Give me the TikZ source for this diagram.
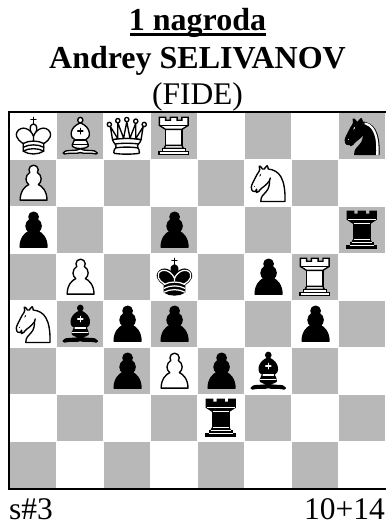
\documentclass[tikz,border=0pt]{standalone}
\usepackage{fontspec}
\usetikzlibrary{svg.path}
\setmainfont{Liberation Serif}
\definecolor{darksq}{HTML}{B8B8B8}
\newcommand{\kingbody}{svg {M 12.5,37 C 18,40.5 27,40.5 32.5,37 L 32.5,30 C 32.5,30 41.5,25.5 38.5,19.5 C 34.5,13 25,16 22.5,23.5 L 22.5,27 L 22.5,23.5 C 20,16 10.5,13 6.5,19.5 C 3.5,25.5 12.5,30 12.5,30 L 12.5,37}}
\newcommand{\kingheart}{svg {M 22.5,25 C 22.5,25 27,17.5 25.5,14.5 C 25.5,14.5 24.5,12 22.5,12 C 20.5,12 19.5,14.5 19.5,14.5 C 18,17.5 22.5,25 22.5,25}}
\newcommand{\bishopbase}{svg {M 9,36 C 12.39,35.03 19.11,36.43 22.5,34 C 25.89,36.43 32.61,35.03 36,36 C 36,36 37.65,36.54 39,38 C 38.32,38.97 37.35,38.99 36,38.5 C 32.61,37.53 25.89,38.96 22.5,37.5 C 19.11,38.96 12.39,37.53 9,38.5 C 7.65,38.99 6.68,38.97 6,38 C 7.35,36.06 9,36 9,36 z}}
\newcommand{\bishopbody}{svg {M 15,32 C 17.5,34.5 27.5,34.5 30,32 C 30.5,30.5 30,30 30,30 C 30,27.5 27.5,26 27.5,26 C 33,24.5 33.5,14.5 22.5,10.5 C 11.5,14.5 12,24.5 17.5,26 C 17.5,26 15,27.5 15,30 C 15,30 14.5,30.5 15,32 z}}
\newcommand{\knightback}{svg {M 22,10 C 32.5,11 38.5,18 38,39 L 15,39 C 15,30 25,32.5 23,18}}
\newcommand{\knighthead}{svg {M 24,18 C 24.38,20.91 18.45,25.37 16,27 C 13,29 13.18,31.34 11,31 C 9.958,30.06 12.41,27.96 11,28 C 10,28 11.19,29.23 10,30 C 9,30 5.997,31 6,26 C 6,24 12,14 12,14 C 12,14 13.89,12.1 14,10.5 C 13.27,9.506 13.5,8.5 13.5,7.5 C 14.5,6.5 16.5,10 16.5,10 L 18.5,10 C 18.5,10 19.28,8.008 21,7 C 22,7 22,10 22,10}}
\newcommand{\pawnshape}{svg {M 22.5,9 C 20.29,9 18.5,10.79 18.5,13 C 18.5,13.89 18.79,14.71 19.28,15.38 C 17.33,16.5 16,18.59 16,21 C 16,23.03 16.94,24.84 18.41,26.03 C 15.41,27.09 11,31.58 11,39.5 L 34,39.5 C 34,31.58 29.59,27.09 26.59,26.03 C 28.06,24.84 29,23.03 29,21 C 29,18.59 27.67,16.5 25.72,15.38 C 26.21,14.71 26.5,13.89 26.5,13 C 26.5,10.79 24.71,9 22.5,9 z}}
\newcommand{\rookcrown}{(8.5,4.8) -- (15,4.8) -- (15,7.8) -- (20,7.8) -- (20,4.8) -- (27,4.8) -- (27,7.8) -- (32,7.8) -- (32,4.8) -- (38.5,4.8) -- (38.5,13) -- (32,17) -- (15,17) -- (8.5,13) -- cycle}
\newcommand{\rookbody}{(15,17) -- (32,17) -- (32,33) -- (15,33) -- cycle}
\newcommand{\rookring}{(15,33) -- (32,33) -- (33.5,36) -- (13.5,36) -- cycle}
\newcommand{\rookneck}{(11.5,36) -- (35.5,36) -- (35.5,39) -- (11.5,39) -- cycle}
\newcommand{\rookfoot}{(8,39) -- (39,39) -- (39,42) -- (8,42) -- cycle}
\tikzset{
  titletext/.style={font=\fontsize{32}{32}\selectfont\bfseries,anchor=base,inner sep=0pt},
  plaintext/.style={font=\fontsize{31.5}{32}\selectfont,anchor=base,inner sep=0pt},
  cell/.style n args={4}{shift={(#1,-#2)},xscale=#3,yscale=-#4,x=1pt,y=1pt,line width=1.35pt,line join=round,line cap=round},
  kingcell/.style={cell={0.5}{-1.6}{1.03}{1.09}},
  queencell/.style={cell={-0.8}{-1}{1.057}{1.09}},
  bishopcell/.style={cell={0.2}{-1.1}{1.035}{1.1}},
  knightcell/.style={cell={0.17}{-1.56}{1.054}{1.12}},
  pawncell/.style={cell={-2.5}{-4.5}{1.168}{1.144}},
  rookcell/.style={cell={0.4}{0}{0.96}{1}},
  wpc/.style={draw=black,fill=white},
  bpc/.style={draw=black,fill=black},
  ink/.style={draw=black,fill=none},
  detail/.style={draw=white,fill=none,line width=1.25pt},
  thindetail/.style={draw=white,fill=none,line width=0.9pt},
  wking/.pic={\begin{scope}[kingcell]
    \draw[ink,line join=miter] (22.5,11.63) -- (22.5,6) (20,8) -- (25,8);
    \path[wpc,line cap=butt,line join=miter] \kingheart;
    \path[wpc] \kingbody;
    \draw[ink] svg {M 12.5,30 C 18,27 27,27 32.5,30 M 12.5,33.5 C 18,30.5 27,30.5 32.5,33.5 M 12.5,37 C 18,34 27,34 32.5,37};
  \end{scope}},
  bking/.pic={\begin{scope}[kingcell]
    \draw[ink,line join=miter] (22.5,11.63) -- (22.5,6) (20,8) -- (25,8);
    \path[bpc,line cap=butt,line join=miter] \kingheart;
    \path[bpc] \kingbody;
    \draw[detail] svg {M 32,29.5 C 32,29.5 40.5,25.5 38.03,19.85 C 34.15,14 25,18 22.5,24.5 L 22.5,26.6 L 22.5,24.5 C 20,18 10.85,14 6.97,19.85 C 4.5,25.5 13,29.5 13,29.5};
    \draw[detail] svg {M 12.5,30 C 18,27 27,27 32.5,30 M 12.5,33.5 C 18,30.5 27,30.5 32.5,33.5 M 12.5,37 C 18,34 27,34 32.5,37};
  \end{scope}},
  wqueen/.pic={\begin{scope}[queencell]
    \path[wpc] (6,12) circle [radius=2] (22.5,7.5) circle [radius=2] (39,12) circle [radius=2] (14,8.5) circle [radius=2] (31,9) circle [radius=2];
    \path[wpc,line cap=butt] svg {M 9,26 C 17.5,24.5 30,24.5 36,26 L 38,14 L 31,25 L 31,11 L 25.5,24.5 L 22.5,9.5 L 19.5,24.5 L 14,10.5 L 14,25 L 7,14 L 9,26 z};
    \path[wpc,line cap=butt] svg {M 9,26 C 9,28 10.5,28 11.5,30 C 12.5,31.5 12.5,31 12,33.5 C 10.5,34.5 10.5,36 10.5,36 C 9,37.5 11,38.5 11,38.5 C 17.5,39.5 27.5,39.5 34,38.5 C 34,38.5 35.5,37.5 34,36 C 34,36 34.5,34.5 33,33.5 C 32.5,31 32.5,31.5 33.5,30 C 34.5,28 36,28 36,26 C 27.5,24.5 17.5,24.5 9,26 z};
    \draw[ink] svg {M 11.5,30 C 15,29 30,29 33.5,30 M 12,33.5 C 18,32.5 27,32.5 33,33.5};
  \end{scope}},
  wbishop/.pic={\begin{scope}[bishopcell]
    \path[wpc] \bishopbase;
    \path[wpc] \bishopbody;
    \path[wpc] (22.5,8) circle [radius=2.5];
    \draw[ink,line join=miter] (17.5,26) -- (27.5,26) (15,30) -- (30,30) (22.5,15.5) -- (22.5,20.5) (20,18) -- (25,18);
  \end{scope}},
  bbishop/.pic={\begin{scope}[bishopcell]
    \path[bpc] \bishopbase;
    \path[bpc] \bishopbody;
    \path[bpc] (22.5,8) circle [radius=2.5];
    \draw[detail,line join=miter] (17.5,26) -- (27.5,26) (15,30) -- (30,30) (22.5,15.5) -- (22.5,20.5) (20,18) -- (25,18);
  \end{scope}},
  wrook/.pic={\begin{scope}[rookcell,line cap=butt,line join=miter]
    \path[wpc] \rookbody;
    \path[wpc] \rookcrown;
    \path[wpc] \rookring;
    \path[wpc] \rookneck;
    \path[wpc] \rookfoot;
    \draw[ink] (8.5,13) -- (38.5,13);
  \end{scope}},
  brook/.pic={\begin{scope}[rookcell,line cap=butt,line join=miter]
    \path[bpc] \rookbody;
    \path[bpc] \rookcrown;
    \path[bpc] \rookring;
    \path[bpc] \rookneck;
    \path[bpc] \rookfoot;
    \draw[thindetail] (9,13) -- (38,13) (15,17) -- (32,17) (15,33) -- (32,33) (13,36) -- (34,36) (11,39) -- (36,39);
  \end{scope}},
  wknight/.pic={\begin{scope}[knightcell]
    \path[wpc] \knightback;
    \path[wpc] \knighthead;
    \fill[black] (9,25.5) circle [radius=0.5];
    \fill[black,shift={(14.5,15.5)},rotate=30] (0,0) ellipse [x radius=0.5,y radius=1.5];
  \end{scope}},
  bknight/.pic={\begin{scope}[knightcell]
    \path[bpc] \knightback;
    \path[bpc] \knighthead;
    \fill[white] (9,25.5) circle [radius=0.5];
    \fill[white,shift={(14.5,15.5)},rotate=30] (0,0) ellipse [x radius=0.5,y radius=1.5];
    \fill[white] svg {M 24.55,10.4 L 24.1,11.85 L 24.6,12 C 27.75,13 30.25,14.49 32.5,18.75 C 34.75,23.01 35.75,29.06 35.25,39 L 35.2,39.5 L 37.45,39.5 L 37.5,39 C 38,28.94 36.62,22.15 34.25,17.66 C 31.88,13.17 28.46,11.02 25.06,10.5 L 24.55,10.4 z};
  \end{scope}},
  wpawn/.pic={\begin{scope}[pawncell]
    \path[wpc,line cap=butt] \pawnshape;
  \end{scope}},
  bpawn/.pic={\begin{scope}[pawncell]
    \path[bpc,line cap=butt] \pawnshape;
  \end{scope}},
}
\begin{document}
\begin{tikzpicture}[x=1pt,y=1pt]
\useasboundingbox (0,0) rectangle (385,524);
\fill[white] (0,0) rectangle (385,524);
\node[titletext] (prize) at (197.5,493) {1 nagroda};
\draw[line width=2.5pt] (130,489.5) -- (266,489.5);
\node[titletext] (author) at (197.5,455.5) {Andrey SELIVANOV};
\node[plaintext] (country) at (197.5,419) {(FIDE)};
\foreach \c/\f in {0/a,1/b,2/c,3/d,4/e,5/f,6/g,7/h}{\foreach \r in {0,...,7}{
  \pgfmathtruncatemacro{\rk}{8-\r}
  \pgfmathtruncatemacro{\odd}{mod(\c+\r,2)}
  \coordinate (\f\rk) at (9.8+47*\c,411.6-47*\r);
  \ifnum\odd=1
    \fill[darksq] (9.8+47*\c+0.5,411.6-47*\r-0.5) rectangle (9.8+47*\c+46.5,411.6-47*\r-46.5);
  \fi
}}
\draw[line width=2pt] (385.5,412.2) -- (9.2,412.2) -- (9.2,35.3) -- (385.5,35.3);
\pic (Ka8) at (a8) {wking};
\pic (Bb8) at (b8) {wbishop};
\pic (Qc8) at (c8) {wqueen};
\pic (Rd8) at (d8) {wrook};
\pic (nh8) at (h8) {bknight};
\pic (Pa7) at (a7) {wpawn};
\pic (Nf7) at (f7) {wknight};
\pic (pa6) at (a6) {bpawn};
\pic (pd6) at (d6) {bpawn};
\pic (rh6) at (h6) {brook};
\pic (Pb5) at (b5) {wpawn};
\pic (kd5) at (d5) {bking};
\pic (pf5) at (f5) {bpawn};
\pic (Rg5) at (g5) {wrook};
\pic (Na4) at (a4) {wknight};
\pic (bb4) at (b4) {bbishop};
\pic (pc4) at (c4) {bpawn};
\pic (pd4) at (d4) {bpawn};
\pic (pg4) at (g4) {bpawn};
\pic (pc3) at (c3) {bpawn};
\pic (Pd3) at (d3) {wpawn};
\pic (pe3) at (e3) {bpawn};
\pic (bf3) at (f3) {bbishop};
\pic (re2) at (e2) {brook};
\node[plaintext,anchor=base west] (stip) at (9,4.5) {s\#3};
\node[plaintext,anchor=base east] (count) at (385,4.5) {10+14};
\end{tikzpicture}
\end{document}
